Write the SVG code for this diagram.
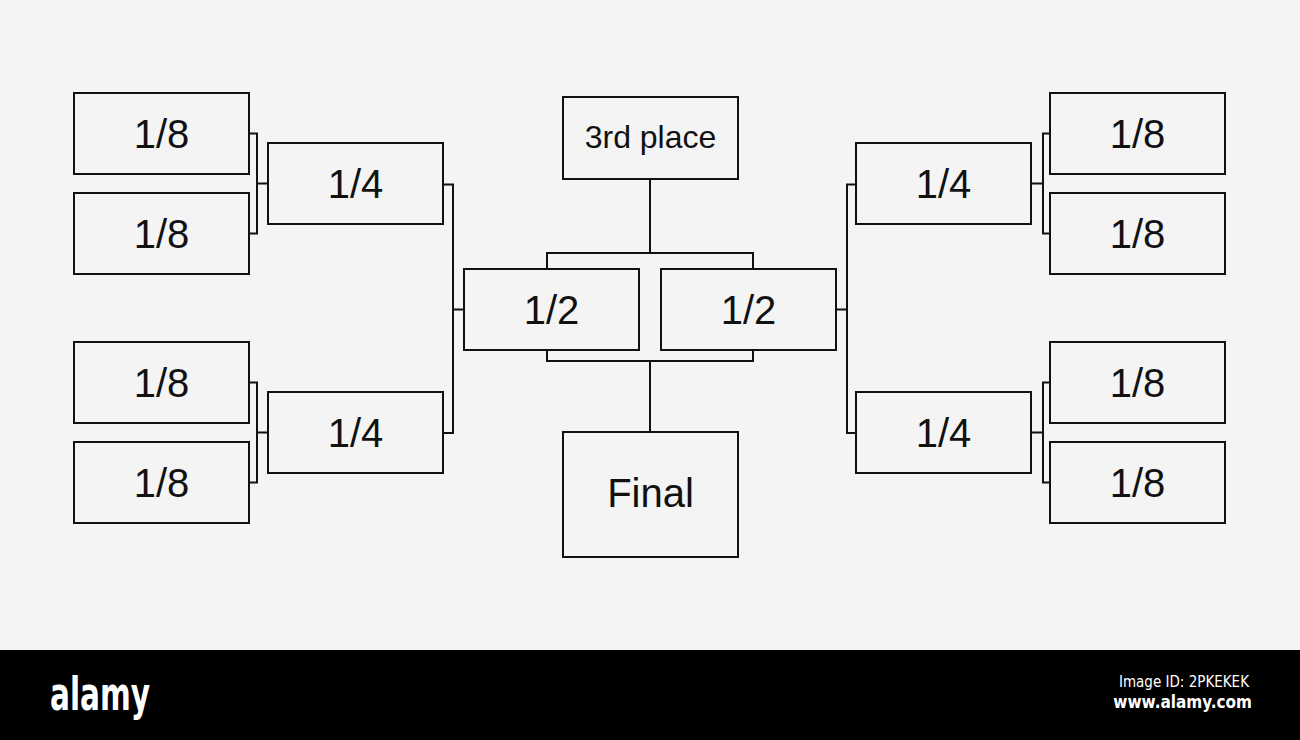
<svg xmlns="http://www.w3.org/2000/svg" width="1300" height="740" viewBox="0 0 1300 740">
<style>
.box{fill:none;stroke:#111;stroke-width:2}
.ln{fill:none;stroke:#111;stroke-width:2}
.t{font-family:"Liberation Sans",Arial,sans-serif;font-size:40px;fill:#111;text-anchor:middle}
.s{font-size:32px}
</style>
<rect width="1300" height="740" fill="#f4f4f4"/>
<g id="connectors">
<path class="ln" d="M249,133.5H257V233.5H249M257,183.5H268"/>
<path class="ln" d="M249,382.5H257V482.5H249M257,432.5H268"/>
<path class="ln" d="M1051,133.5H1043V233.5H1051M1043,183.5H1032"/>
<path class="ln" d="M1051,382.5H1043V482.5H1051M1043,432.5H1032"/>
<path class="ln" d="M443,184.5H453V433H443M453,309.5H464"/>
<path class="ln" d="M857,184.5H847V433H857M847,309.5H836"/>
<path class="ln" d="M650,179V253M547,269V253H753V269"/>
<path class="ln" d="M547,350V361H753V350M650,361V432"/>
</g>
<g id="l8a"><rect class="box" x="74" y="93" width="175" height="81"/><text class="t" x="161.5" y="147.5">1/8</text></g>
<g id="l8b"><rect class="box" x="74" y="193" width="175" height="81"/><text class="t" x="161.5" y="247.5">1/8</text></g>
<g id="l8c"><rect class="box" x="74" y="342" width="175" height="81"/><text class="t" x="161.5" y="396.5">1/8</text></g>
<g id="l8d"><rect class="box" x="74" y="442" width="175" height="81"/><text class="t" x="161.5" y="496.5">1/8</text></g>
<g id="l4a"><rect class="box" x="268" y="143" width="175" height="81"/><text class="t" x="355.5" y="197.5">1/4</text></g>
<g id="l4b"><rect class="box" x="268" y="392" width="175" height="81"/><text class="t" x="355.5" y="446.5">1/4</text></g>
<g id="l2"><rect class="box" x="464" y="269" width="175" height="81"/><text class="t" x="551.5" y="323.5">1/2</text></g>
<g id="r2"><rect class="box" x="661" y="269" width="175" height="81"/><text class="t" x="748.5" y="323.5">1/2</text></g>
<g id="r4a"><rect class="box" x="856" y="143" width="175" height="81"/><text class="t" x="943.5" y="197.5">1/4</text></g>
<g id="r4b"><rect class="box" x="856" y="392" width="175" height="81"/><text class="t" x="943.5" y="446.5">1/4</text></g>
<g id="r8a"><rect class="box" x="1050" y="93" width="175" height="81"/><text class="t" x="1137.5" y="147.5">1/8</text></g>
<g id="r8b"><rect class="box" x="1050" y="193" width="175" height="81"/><text class="t" x="1137.5" y="247.5">1/8</text></g>
<g id="r8c"><rect class="box" x="1050" y="342" width="175" height="81"/><text class="t" x="1137.5" y="396.5">1/8</text></g>
<g id="r8d"><rect class="box" x="1050" y="442" width="175" height="81"/><text class="t" x="1137.5" y="496.5">1/8</text></g>
<g id="third"><rect class="box" x="563" y="97" width="175" height="82"/><text class="t s" x="650.5" y="148">3rd place</text></g>
<g id="final"><rect class="box" x="563" y="432" width="175" height="125"/><text class="t" x="650.5" y="507">Final</text></g>
<g id="footer">
<rect x="0" y="650" width="1300" height="90" fill="#000"/>
<text x="50" y="710" font-family="'DejaVu Sans Condensed','DejaVu Sans',sans-serif" font-weight="bold" font-size="46" fill="#fff" textLength="100" lengthAdjust="spacingAndGlyphs">alamy</text>
<text x="1249" y="687" font-family="'DejaVu Sans Condensed','DejaVu Sans',sans-serif" font-size="15" fill="#fff" text-anchor="end">Image ID: 2PKEKEK</text>
<text x="1252" y="708" font-family="'DejaVu Sans Condensed','DejaVu Sans',sans-serif" font-weight="bold" font-size="17" fill="#fff" text-anchor="end">www.alamy.com</text>
</g>
</svg>
